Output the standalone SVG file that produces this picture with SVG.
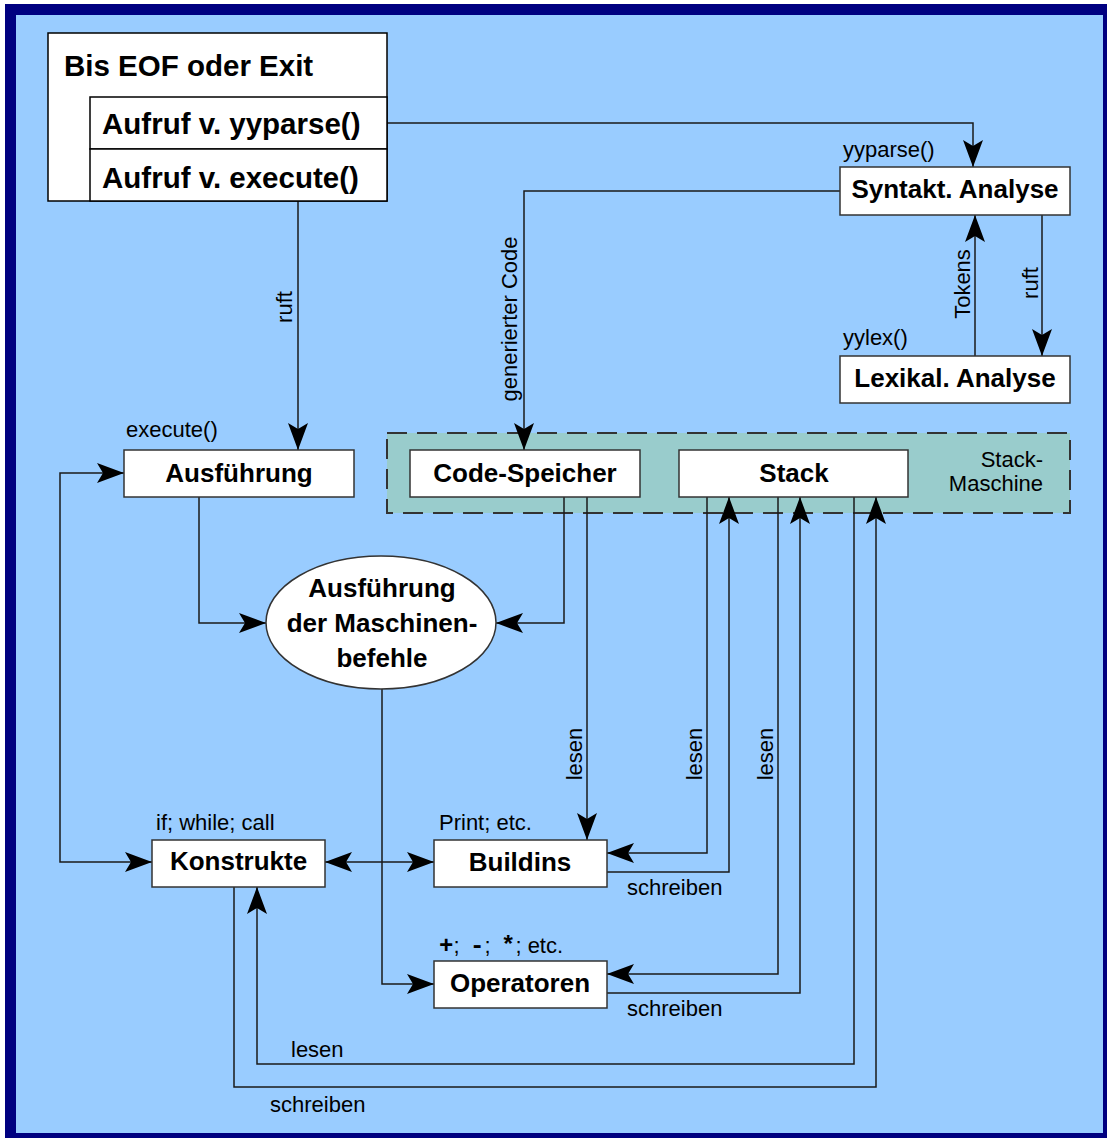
<svg xmlns="http://www.w3.org/2000/svg" width="1107" height="1138" viewBox="0 0 1107 1138">
<style>
.box{fill:#fff;stroke:#333;stroke-width:1.5}
.b{font-family:"Liberation Sans",Arial,sans-serif;font-weight:bold;font-size:26px;fill:#000}
.bt{font-family:"Liberation Sans",Arial,sans-serif;font-weight:bold;font-size:29.5px;fill:#000}
.s{font-family:"Liberation Sans",Arial,sans-serif;font-size:22px;fill:#000}
.mono{font-family:"Liberation Mono","Courier New",monospace;font-weight:bold;font-size:24px}
.c{text-anchor:middle}
.ln{fill:none;stroke:#1a1a1a;stroke-width:1.5}
</style>
<defs>
<marker id="ah" markerUnits="userSpaceOnUse" markerWidth="30" markerHeight="24" viewBox="-28 -12 30 24" refX="0" refY="0" orient="auto">
<path d="M0,0 L-27,-10 L-21,0 L-27,10 Z" fill="#000"/>
</marker>
<marker id="as" markerUnits="userSpaceOnUse" markerWidth="30" markerHeight="24" viewBox="-28 -12 30 24" refX="0" refY="0" orient="auto-start-reverse">
<path d="M0,0 L-27,-10 L-21,0 L-27,10 Z" fill="#000"/>
</marker>
</defs>
<rect x="0" y="0" width="1107" height="1138" fill="#fff"/>
<rect x="5" y="4" width="1102" height="1134" fill="#000080"/>
<rect x="16" y="15" width="1087" height="1118" fill="#99CCFF"/>

<g id="stack-maschine">
<rect x="387" y="433" width="683" height="80" fill="#99CCCC" stroke="#333" stroke-width="2" stroke-dasharray="20 10"/>
<text class="s" x="1043" y="467" text-anchor="end">Stack-</text>
<text class="s" x="1043" y="491" text-anchor="end">Maschine</text>
</g>

<g id="connectors">
<path class="ln" d="M387,123 H973 V167" marker-end="url(#ah)"/>
<path class="ln" d="M298,201 V450" marker-end="url(#ah)"/>
<path class="ln" d="M840,191 H524 V450" marker-end="url(#ah)"/>
<path class="ln" d="M975,356 V215" marker-end="url(#ah)"/>
<path class="ln" d="M1042,215 V356" marker-end="url(#ah)"/>
<path class="ln" d="M199,497 V623 H266" marker-end="url(#ah)"/>
<path class="ln" d="M564,497 V623 H496" marker-end="url(#ah)"/>
<path class="ln" d="M587,497 V840" marker-end="url(#ah)"/>
<path class="ln" d="M707,497 V853 H607" marker-end="url(#ah)"/>
<path class="ln" d="M607,872 H729 V497" marker-end="url(#ah)"/>
<path class="ln" d="M778,497 V974 H607" marker-end="url(#ah)"/>
<path class="ln" d="M607,993 H800 V497" marker-end="url(#ah)"/>
<path class="ln" d="M854,497 V1064 H257 V887" marker-end="url(#ah)"/>
<path class="ln" d="M234,887 V1087 H876 V497" marker-end="url(#ah)"/>
<path class="ln" d="M325,862 H434" marker-start="url(#as)" marker-end="url(#ah)"/>
<path class="ln" d="M382,689 V984 H434" marker-end="url(#ah)"/>
<path class="ln" d="M124,473 H60 V862 H152" marker-start="url(#as)" marker-end="url(#ah)"/>
<text class="s c" transform="translate(292,307) rotate(-90)">ruft</text>
<text class="s c" transform="translate(517,319) rotate(-90)">generierter Code</text>
<text class="s c" transform="translate(970,284) rotate(-90)">Tokens</text>
<text class="s c" transform="translate(1038,283) rotate(-90)">ruft</text>
<text class="s c" transform="translate(582,754) rotate(-90)">lesen</text>
<text class="s c" transform="translate(702,754) rotate(-90)">lesen</text>
<text class="s c" transform="translate(773,754) rotate(-90)">lesen</text>
<text class="s" x="627" y="895">schreiben</text>
<text class="s" x="627" y="1016">schreiben</text>
<text class="s" x="291" y="1057">lesen</text>
<text class="s" x="270" y="1112">schreiben</text>
</g>

<g id="schleife">
<rect x="48" y="33" width="339" height="168" fill="#fff" stroke="#000" stroke-width="1.5"/>
<rect x="90" y="97" width="297" height="52" fill="#fff" stroke="#000" stroke-width="1.5"/>
<rect x="90" y="149" width="297" height="52" fill="#fff" stroke="#000" stroke-width="1.5"/>
<text class="bt" x="64" y="76">Bis EOF oder Exit</text>
<text class="bt" x="102" y="134">Aufruf v. yyparse()</text>
<text class="bt" x="102" y="188">Aufruf v. execute()</text>
</g>

<g id="syntakt">
<rect class="box" x="840" y="167" width="230" height="48"/>
<text class="b c" x="955" y="198">Syntakt. Analyse</text>
<text class="s" x="843" y="157">yyparse()</text>
</g>

<g id="lexikal">
<rect class="box" x="840" y="356" width="230" height="47"/>
<text class="b c" x="955" y="387">Lexikal. Analyse</text>
<text class="s" x="843" y="345">yylex()</text>
</g>

<g id="ausfuehrung">
<rect class="box" x="124" y="450" width="230" height="47"/>
<text class="b c" x="239" y="482">Ausführung</text>
<text class="s" x="126" y="437">execute()</text>
</g>

<g id="code-speicher">
<rect class="box" x="410" y="450" width="230" height="47"/>
<text class="b c" x="525" y="482">Code-Speicher</text>
</g>

<g id="stack">
<rect class="box" x="679" y="450" width="229" height="47"/>
<text class="b c" x="794" y="482">Stack</text>
</g>

<g id="maschinenbefehle">
<ellipse cx="381" cy="622.5" rx="115" ry="66.5" fill="#fff" stroke="#333" stroke-width="1.5"/>
<text class="b c" x="382" y="597">Ausführung</text>
<text class="b c" x="382" y="632">der Maschinen-</text>
<text class="b c" x="382" y="667">befehle</text>
</g>

<g id="konstrukte">
<rect class="box" x="152" y="840" width="173" height="47"/>
<text class="b c" x="238.5" y="870">Konstrukte</text>
<text class="s" x="156" y="830">if; while; call</text>
</g>

<g id="buildins">
<rect class="box" x="434" y="840" width="173" height="47"/>
<text class="b c" x="520" y="871">Buildins</text>
<text class="s" x="439" y="830">Print; etc.</text>
</g>

<g id="operatoren">
<rect class="box" x="434" y="961" width="173" height="47"/>
<text class="b c" x="520" y="992">Operatoren</text>
<text class="s" x="439" y="953"><tspan class="mono">+</tspan>;<tspan x="470" class="mono">-</tspan>;<tspan x="501" class="mono">*</tspan>; etc.</text>
</g>
</svg>
